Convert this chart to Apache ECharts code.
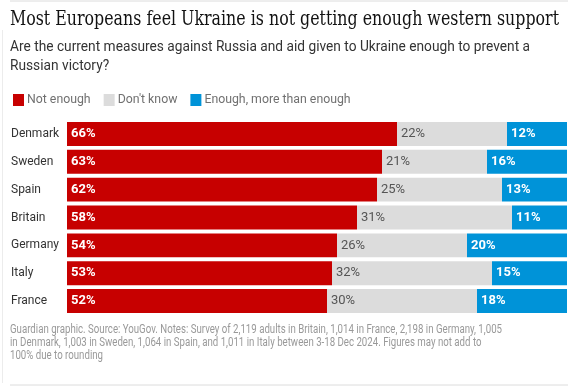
<!DOCTYPE html>
<html>
<head>
<meta charset="utf-8">
<script src="https://cdn.jsdelivr.net/npm/echarts@6/dist/echarts.min.js"></script>
<style>html,body{margin:0;padding:0;background:#fff;}#c{width:584px;height:386px;}</style>
</head>
<body>
<div id="c"></div>
<script>
const categories = ['Denmark','Sweden','Spain','Britain','Germany','Italy','France'];
const notEnough = [66,63,62,58,54,53,52];
const dontKnow = [22,21,25,31,26,32,30];
const enough = [12,16,13,11,20,15,18];
const seriesNames = ['Not enough',"Don't know",'Enough, more than enough'];
const titleText = 'Most Europeans feel Ukraine is not getting enough western support';
const subtitleLines = ['Are the current measures against Russia and aid given to Ukraine enough to prevent a','Russian victory?'];
const noteLines = ['Guardian graphic. Source: YouGov. Notes: Survey of 2,119 adults in Britain, 1,014 in France, 2,198 in Germany, 1,005',
  'in Denmark, 1,003 in Sweden, 1,064 in Spain, and 1,011 in Italy between 3-18 Dec 2024. Figures may not add to',
  '100% due to rounding'];

const cv = document.createElement('canvas').getContext('2d');
function measure(t, font){ cv.font = font; return cv.measureText(t).width; }
function fitScale(t, font, target){ const w = measure(t, font); return w > 0 ? target / w : 1; }

const titleFont = 'normal 21px "DejaVu Serif"';
const subFont = 'normal 14px Roboto';
const noteFont = 'normal 12px Roboto';
const tS = fitScale(titleText, titleFont, 549);
const sS = fitScale(subtitleLines[0], subFont, 520);
const nS = fitScale(noteLines[0], noteFont, 492);

const graphics = [
  {type:'line', shape:{x1:10,y1:1,x2:568,y2:1}, style:{stroke:'#dcdcdc', lineWidth:1}},
  {type:'line', shape:{x1:10,y1:385,x2:568,y2:385}, style:{stroke:'#dcdcdc', lineWidth:1}},
  {type:'line', shape:{x1:2.5,y1:30,x2:2.5,y2:383}, style:{stroke:'#ececec', lineWidth:1}},
  {type:'text', x:10, y:20, scaleX:tS, style:{text:titleText, font:titleFont, fill:'#121212', textVerticalAlign:'middle'}},
];
subtitleLines.forEach((l,i)=>graphics.push({type:'text', x:10, y:47+i*19, scaleX:sS, style:{text:l, font:subFont, fill:'#333', textVerticalAlign:'middle'}}));
noteLines.forEach((l,i)=>graphics.push({type:'text', x:10, y:330+i*13, scaleX:nS, style:{text:l, font:noteFont, fill:'#999', textVerticalAlign:'middle'}}));

const colors = ['#c70000','#dcdcdc','#0093d8'];
const labelColors = ['#fff','#555','#fff'];
const labelWeights = ['bold','normal','bold'];
const datas = [notEnough, dontKnow, enough];

const chart = echarts.init(document.getElementById('c'));
chart.setOption({
  animation:false,
  color: colors,
  graphic: graphics,
  legend:{
    left:13, top:94, padding:0, itemWidth:11, itemHeight:12, itemGap:13, icon:'rect',
    textStyle:{fontFamily:'Roboto', fontSize:12.3, color:'#707070', padding:[0,0,0,-2]},
    data: seriesNames
  },
  grid:{left:67, right:17, top:120, bottom:71},
  xAxis:{type:'value', min:0, max:100, show:false},
  yAxis:{type:'category', data:categories, inverse:true,
    axisLine:{show:false}, axisTick:{show:false},
    axisLabel:{align:'left', margin:56, color:'#333', fontFamily:'Roboto', fontSize:12}},
  series: datas.map((d,i)=>({
    type:'bar', name:seriesNames[i], stack:'t', data:d, barCategoryGap:'14%',
    itemStyle:{color:colors[i]},
    label:{show:true, position:'insideLeft', distance:4, formatter:'{c}%', color:labelColors[i],
      fontWeight:labelWeights[i], fontFamily:'Roboto', fontSize:13}
  }))
});
</script>
</body>
</html>
